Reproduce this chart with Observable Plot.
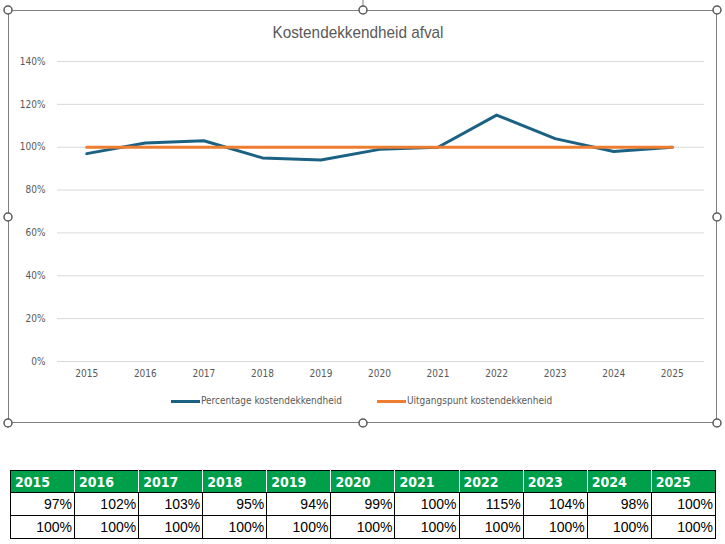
<!DOCTYPE html>
<html><head><meta charset="utf-8">
<script src="https://cdn.jsdelivr.net/npm/d3@7"></script>
<script src="https://cdn.jsdelivr.net/npm/@observablehq/plot@0.6"></script>
<style>
body{margin:0;background:#fff;width:725px;height:544px;position:relative;overflow:hidden;font-family:"DejaVu Sans Condensed",sans-serif;}
#frame{position:absolute;left:8px;top:10px;width:709px;height:413px;border:1px solid #7f7f7f;box-sizing:border-box;}
#chart{position:absolute;left:0;top:0;}
#title{position:absolute;left:0;width:725px;top:23px;text-align:center;color:#595959;}
#title span{display:inline-block;font-family:"Liberation Sans",sans-serif;font-size:17px;transform:scaleX(0.9);transform-origin:center;margin-left:-10px;}
.leg{position:absolute;top:395px;font-size:10px;color:#595959;white-space:nowrap;}
.sw{display:inline-block;width:29px;height:3px;vertical-align:middle;margin-right:1px;}
#handles{position:absolute;left:0;top:0;}
table{position:absolute;left:10px;top:470px;width:706px;border-collapse:collapse;table-layout:fixed;font-family:"Liberation Sans","DejaVu Sans",sans-serif;}
th{background:#00a04a;color:#fff;text-align:left;font-weight:bold;font-size:14px;height:21px;padding:0 0 0 4px;border:1px solid #000;border-right:1px solid #fff;font-family:"DejaVu Sans Condensed","Liberation Sans",sans-serif;}
th:last-child{border-right:1px solid #000;}
td{text-align:right;font-size:14px;height:22px;padding:0 2px 0 0;border:1px solid #000;}
</style></head>
<body>
<div id="chart"></div>
<div id="frame"></div>
<div id="title"><span>Kostendekkendheid afval</span></div>
<div class="leg" style="left:171px"><span class="sw" style="background:#1b6183"></span>Percentage kostendekkendheid</div>
<div class="leg" style="left:377px"><span class="sw" style="background:#ed7d31"></span>Uitgangspunt kostendekkenheid</div>
<svg id="handles" width="725" height="440"></svg>
<table id="tbl"></table>
<script>
const years = ["2015","2016","2017","2018","2019","2020","2021","2022","2023","2024","2025"];
const percentage = [0.97,1.02,1.03,0.95,0.94,0.99,1.00,1.15,1.04,0.98,1.00];
const uitgangspunt = [1,1,1,1,1,1,1,1,1,1,1];
const yTicks = [0,0.2,0.4,0.6,0.8,1.0,1.2,1.4];
const seriesNames = ["Percentage kostendekkendheid","Uitgangspunt kostendekkenheid"];

const rowsA = years.map((y,i)=>({year:y, v:percentage[i]}));
const rowsB = years.map((y,i)=>({year:y, v:uitgangspunt[i]}));

const plot = Plot.plot({
  width:725, height:400,
  marginLeft:57, marginRight:21, marginTop:61, marginBottom:39,
  style:{fontFamily:'"DejaVu Sans Condensed",sans-serif', fontSize:"10px", color:"#595959", background:"transparent"},
  x:{type:"point", domain:years, padding:0.5, round:false, insetRight:3, label:null},
  y:{domain:[0,1.4], label:null},
  marks:[
    Plot.gridY(yTicks,{stroke:"#d9d9d9", strokeOpacity:1}),
    Plot.axisY(yTicks,{tickFormat:d3.format(".0%"), tickSize:0, tickPadding:12, label:null, fill:"#595959"}),
    Plot.axisX({tickSize:0, tickPadding:8, label:null, fill:"#595959"}),
    Plot.line(rowsA,{x:"year", y:"v", stroke:"#1b6183", strokeWidth:3, strokeLinejoin:"round"}),
    Plot.line(rowsB,{x:"year", y:"v", stroke:"#ed7d31", strokeWidth:3})
  ]
});
document.getElementById("chart").appendChild(plot);

// selection handles
const hs = d3.select("#handles");
hs.append("line").attr("x1",363).attr("x2",363).attr("y1",0).attr("y2",6).attr("stroke","#7f7f7f");
[[8,10],[363,10],[717,10],[8,217],[717,217],[8,423],[363,423],[717,423]].forEach(([x,y])=>{
  hs.append("circle").attr("cx",x).attr("cy",y).attr("r",4).attr("fill","#fff").attr("stroke","#595959").attr("stroke-width",1.5);
});

// table
const fmt = d3.format(".0%");
const tbl = d3.select("#tbl");
tbl.append("tr").selectAll("th").data(years).join("th").text(d=>d);
tbl.append("tr").selectAll("td").data(percentage).join("td").text(d=>fmt(d));
tbl.append("tr").selectAll("td").data(uitgangspunt).join("td").text(d=>fmt(d));
</script>
</body></html>
